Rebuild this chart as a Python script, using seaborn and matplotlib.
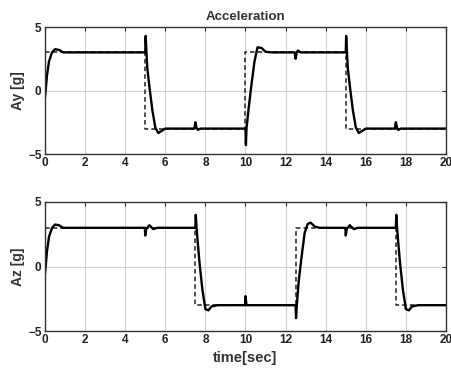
import matplotlib
matplotlib.use("Agg")
import matplotlib.pyplot as plt
import seaborn as sns
import pandas as pd

# Reference (command) steps
ref_ay_t = [0, 5, 5, 10, 10, 15, 15, 20]
ref_ay_v = [3, 3, -3, -3, 3, 3, -3, -3]
ref_az_t = [0, 7.5, 7.5, 12.5, 12.5, 17.5, 17.5, 20]
ref_az_v = [3, 3, -3, -3, 3, 3, -3, -3]

# Measured response (read-off breakpoints)
ay_t = [0, 0.05, 0.1, 0.2, 0.35, 0.5, 0.7, 0.9, 1.2, 5.0, 5.02, 5.06, 5.1, 5.2, 5.35, 5.5, 5.65, 5.8, 6.0, 6.4,
        7.45, 7.5, 7.55, 7.62, 7.75, 10.0, 10.02, 10.05, 10.15, 10.3, 10.45, 10.6, 10.8, 11.0, 11.3,
        12.45, 12.5, 12.55, 12.62, 12.75, 15.0, 15.02, 15.06, 15.1, 15.2, 15.35, 15.5, 15.65, 15.8, 16.0, 16.4,
        17.45, 17.5, 17.55, 17.62, 17.75, 20.0]
ay_v = [-0.5, 0.3, 1.2, 2.3, 3.0, 3.25, 3.2, 3.0, 3.0, 3.0, 4.3, 3.0, 1.8, 0.4, -1.5, -2.9, -3.35, -3.2, -3.0, -3.0,
        -3.0, -2.5, -2.9, -3.1, -3.0, -3.0, -4.3, -3.0, -1.5, 0.5, 2.3, 3.4, 3.35, 3.05, 3.0,
        3.0, 2.5, 3.0, 3.15, 3.0, 3.0, 4.3, 3.0, 1.8, 0.4, -1.5, -2.9, -3.35, -3.2, -3.0, -3.0,
        -3.0, -2.5, -2.9, -3.1, -3.0, -3.0]
az_t = [0, 0.05, 0.1, 0.2, 0.35, 0.5, 0.7, 0.9, 1.2, 4.98, 5.0, 5.05, 5.2, 5.4, 5.6, 6.0, 7.5, 7.52, 7.56, 7.6,
        7.7, 7.85, 8.0, 8.15, 8.3, 8.6, 9.98, 10.0, 10.05, 10.2, 12.5, 12.52, 12.56, 12.65, 12.8, 12.95, 13.1, 13.25,
        13.45, 13.7, 14.98, 15.0, 15.05, 15.2, 15.4, 15.6, 16.0, 17.5, 17.52, 17.56, 17.6, 17.7, 17.85, 18.0, 18.15,
        18.3, 18.6, 20.0]
az_v = [-0.5, 0.3, 1.2, 2.3, 3.0, 3.25, 3.2, 3.0, 3.0, 3.0, 2.4, 2.9, 3.2, 2.9, 3.0, 3.0, 3.0, 4.0, 3.0, 2.2,
        0.4, -1.8, -3.3, -3.4, -3.1, -3.0, -3.0, -2.3, -3.0, -3.0, -3.0, -4.0, -3.0, -1.2, 0.8, 2.6, 3.3, 3.4,
        3.1, 3.0, 3.0, 2.4, 2.9, 3.2, 2.9, 3.0, 3.0, 3.0, 4.0, 3.0, 2.2, 0.4, -1.8, -3.3, -3.4,
        -3.1, -3.0, -3.0]

x_ticks = list(range(0, 21, 2))
y_ticks = [-5, 0, 5]

sns.set_theme(style="whitegrid")
plt.rcParams['font.family'] = ['Liberation Sans', 'DejaVu Sans']
plt.rcParams['font.weight'] = 'bold'

fig = plt.figure(figsize=(4.52, 3.72), dpi=100)
ax1 = fig.add_axes([45/452, 1-154/372, 401/452, 127/372])
ax2 = fig.add_axes([45/452, 1-331/372, 401/452, 129/372])

panels = [
    (ax1, ref_ay_t, ref_ay_v, ay_t, ay_v, "Ay [g]"),
    (ax2, ref_az_t, ref_az_v, az_t, az_v, "Az [g]"),
]
for ax, rt, rv, mt, mv, lab in panels:
    sns.lineplot(x=rt, y=rv, ax=ax, color="#222222", linestyle=(0, (3, 2)), linewidth=1.1, estimator=None, sort=False)
    sns.lineplot(x=mt, y=mv, ax=ax, color="black", linewidth=1.7, estimator=None, sort=False)
    ax.set_xlim(0, 20)
    ax.set_ylim(-5, 5)
    ax.set_xticks(x_ticks)
    ax.set_yticks(y_ticks)
    ax.grid(True, color="#d0d0d0", linewidth=0.8)
    for s in ax.spines.values():
        s.set_color("#333333")
        s.set_linewidth(1.0)
    ax.tick_params(direction="in", length=3, width=0.8, color="#333333", labelsize=8.5,
                   labelcolor="#222222", top=True, right=True, pad=2.5)
    for t in ax.get_xticklabels() + ax.get_yticklabels():
        t.set_fontweight("bold")
    ax.set_ylabel(lab, fontsize=10, fontweight="bold", color="#333333", labelpad=2)
    ax.set_facecolor("white")

ax1.set_title("Acceleration", fontsize=9.5, fontweight="bold", color="#333333", pad=5)
ax2.set_xlabel("time[sec]", fontsize=10.5, fontweight="bold", color="#333333", labelpad=3)

fig.savefig("out.png", dpi=100, facecolor="white")
